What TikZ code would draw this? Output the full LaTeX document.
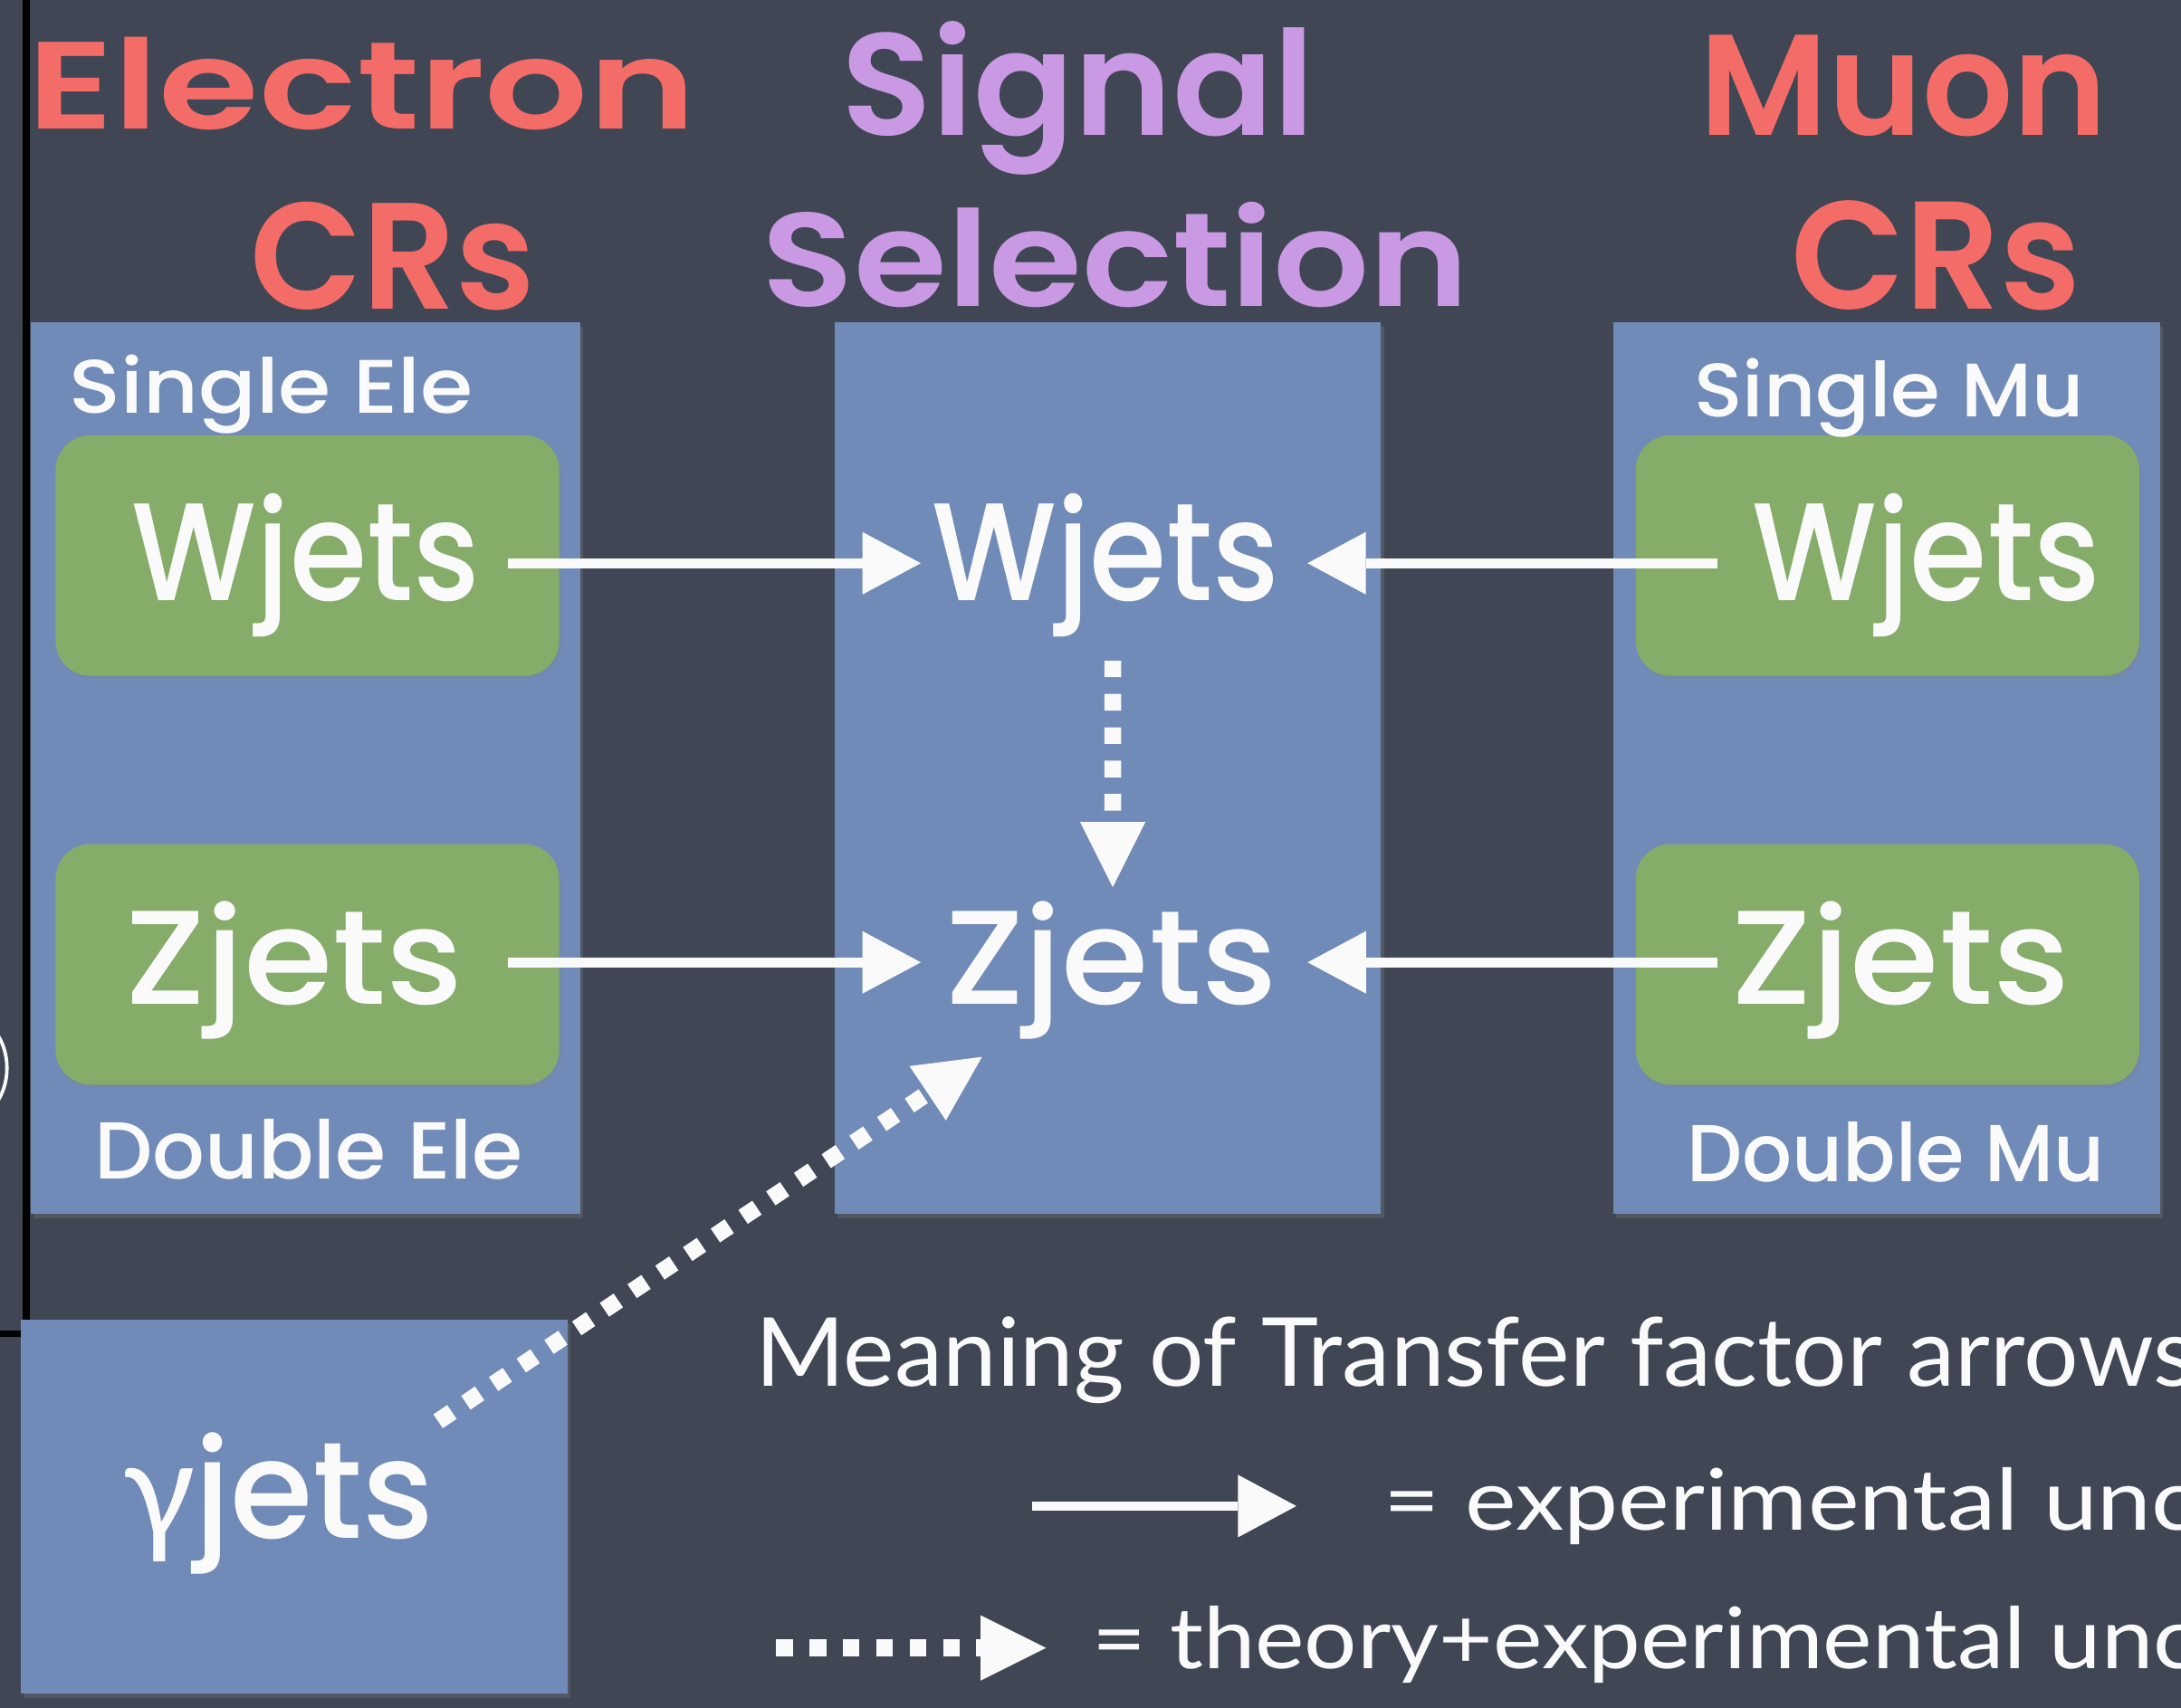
\documentclass[tikz,border=0pt]{standalone}
\usepackage{fontspec}
\usepackage{graphicx}
\setmainfont{Poppins}[UprightFont={* Medium}]
\newfontfamily\titlefont{Poppins}[UprightFont={* SemiBold}]
\newfontfamily\legendfont{Lato}
\newfontfamily\greekfont{Lato}
\usetikzlibrary{arrows.meta,shadows}

\definecolor{board}{RGB}{64,70,84}
\definecolor{panelblue}{RGB}{113,139,184}
\definecolor{panelgreen}{RGB}{134,172,106}
\definecolor{titlered}{RGB}{243,108,104}
\definecolor{titlepurple}{RGB}{201,153,228}
\definecolor{chalk}{RGB}{250,250,250}

% one picture pixel
\newlength\pxu
\setlength\pxu{0.02cm}
% text scaled to a width and a height above the baseline, in picture pixels
\newcommand\fitto[3]{\resizebox{#1\pxu}{#2\pxu}{#3}}

\begin{document}
\begin{tikzpicture}[x=0.02cm,y=-0.02cm,
  panel/.style={fill=panelblue, inner sep=0pt, outer sep=0pt, anchor=north west,
    drop shadow={opacity=0.3, shadow xshift=0.04cm, shadow yshift=-0.06cm}},
  tile/.style={fill=panelgreen, rounded corners=0.5cm, inner sep=0pt, outer sep=0pt, anchor=north west,
    drop shadow={opacity=0.25, shadow xshift=0.03cm, shadow yshift=-0.05cm}},
  label/.style={text=chalk, inner sep=0pt, outer sep=0pt, anchor=base west},
  title/.style={inner sep=0pt, outer sep=0pt, anchor=base west, font=\titlefont},
  legend/.style={text=chalk, inner sep=0pt, outer sep=0pt, anchor=base west, font=\legendfont},
  exparrow/.style={draw=chalk, line width=0.14cm,
    -{Triangle[length=0.84cm, width=0.9cm, line width=0pt]}},
  thyarrow/.style={draw=chalk, line width=0.24cm, dash pattern=on 0.24cm off 0.24cm,
    -{Triangle[length=0.94cm, width=0.94cm, line width=0pt]}},
]
\useasboundingbox (0,0) rectangle (1568,1228);
\begin{scope}
\clip (0,0) rectangle (1568,1228);
\fill[board] (0,0) rectangle (1568,1228);

% frame edge and arc at the left border
\draw[black, line width=0.1cm] (19,-5) -- (19,959) -- (-5,959);
\draw[chalk, line width=0.05cm] (-22,768) ellipse [x radius=0.54cm, y radius=0.72cm];

% panels
\node[panel, minimum width=7.9cm, minimum height=12.82cm] (eleCR) at (22,232) {};
\node[panel, minimum width=7.86cm, minimum height=12.82cm] (sigSel) at (600,232) {};
\node[panel, minimum width=7.86cm, minimum height=12.82cm] (muCR) at (1160,232) {};
\node[panel, minimum width=7.86cm, minimum height=5.38cm] (gamCR) at (15,949) {};

% sample tiles
\node[tile, minimum width=7.24cm, minimum height=3.46cm] (eleWtile) at (40,313) {};
\node[tile, minimum width=7.24cm, minimum height=3.46cm] (eleZtile) at (40,607) {};
\node[tile, minimum width=7.24cm, minimum height=3.46cm] (muWtile) at (1176,313) {};
\node[tile, minimum width=7.24cm, minimum height=3.46cm] (muZtile) at (1176,607) {};

% headings
\node[title, text=titlered] (tEle) at (20,93) {\fitto{480}{66}{Electron}};
\node[title, text=titlered] (tEleCR) at (180,222) {\fitto{205}{77}{CRs}};
\node[title, text=titlepurple] (tSig) at (605,97) {\fitto{340}{82}{Signal}};
\node[title, text=titlepurple] (tSel) at (548,220) {\fitto{508}{75}{Selection}};
\node[title, text=titlered] (tMu) at (1222,97) {\fitto{293}{72}{Muon}};
\node[title, text=titlered] (tMuCR) at (1288,222) {\fitto{208}{78}{CRs}};

% trigger labels
\node[label] (sEle) at (50,297) {\fitto{290}{42}{Single Ele}};
\node[label] (dEle) at (68,848) {\fitto{308}{43}{Double Ele}};
\node[label] (sMu) at (1218,300) {\fitto{280}{42}{Single Mu}};
\node[label] (dMu) at (1213,850) {\fitto{300}{43}{Double Mu}};

% samples
\node[label] (eW) at (95,432) {\fitto{250}{77}{Wjets}};
\node[label] (sW) at (670,432) {\fitto{250}{77}{Wjets}};
\node[label] (mW) at (1260,432) {\fitto{250}{77}{Wjets}};
\node[label] (eZ) at (90,722) {\fitto{243}{74}{Zjets}};
\node[label] (sZ) at (680,722) {\fitto{238}{74}{Zjets}};
\node[label] (mZ) at (1245,722) {\fitto{243}{74}{Zjets}};
\node[label] (gJ) at (88,1106) {\fitto{224}{76}{{\greekfont γ}jets}};

% transfer factors
\draw[exparrow] ([xshift=0.4cm, yshift=0.54cm]eW.base east) -- ([xshift=-0.16cm, yshift=0.54cm]sW.base west);
\draw[exparrow] ([xshift=-0.5cm, yshift=0.54cm]mW.base west) -- ([xshift=0.4cm, yshift=0.54cm]sW.base east);
\draw[exparrow] ([xshift=0.64cm, yshift=0.6cm]eZ.base east) -- ([xshift=-0.36cm, yshift=0.6cm]sZ.base west);
\draw[exparrow] ([xshift=-0.2cm, yshift=0.6cm]mZ.base west) -- ([xshift=0.44cm, yshift=0.6cm]sZ.base east);
\draw[thyarrow] ([xshift=2.6cm, yshift=-0.86cm]sW.base west) -- ([xshift=2.4cm, yshift=1.68cm]sZ.base west);
\draw[thyarrow] ([xshift=4.54cm, yshift=1.68cm]gJ.base west) -- ([xshift=0.52cm, yshift=-0.76cm]sZ.base west);

% legend
\node[legend] (lgTitle) at (543,997) {\fitto{1035}{50}{Meaning of Transfer factor arrows}};
\node[legend] (lgExp) at (995,1100) {\fitto{585}{45}{= experimental unc}};
\node[legend] (lgThy) at (785,1200) {\fitto{795}{45}{= theory+experimental unc}};
\coordinate (expA) at (742,1083);
\coordinate (expB) at (932,1083);
\draw[exparrow] (expA) -- (expB);
\coordinate (thyA) at (558,1185);
\coordinate (thyB) at (752,1185);
\draw[thyarrow] (thyA) -- (thyB);
\end{scope}
\end{tikzpicture}
\end{document}
